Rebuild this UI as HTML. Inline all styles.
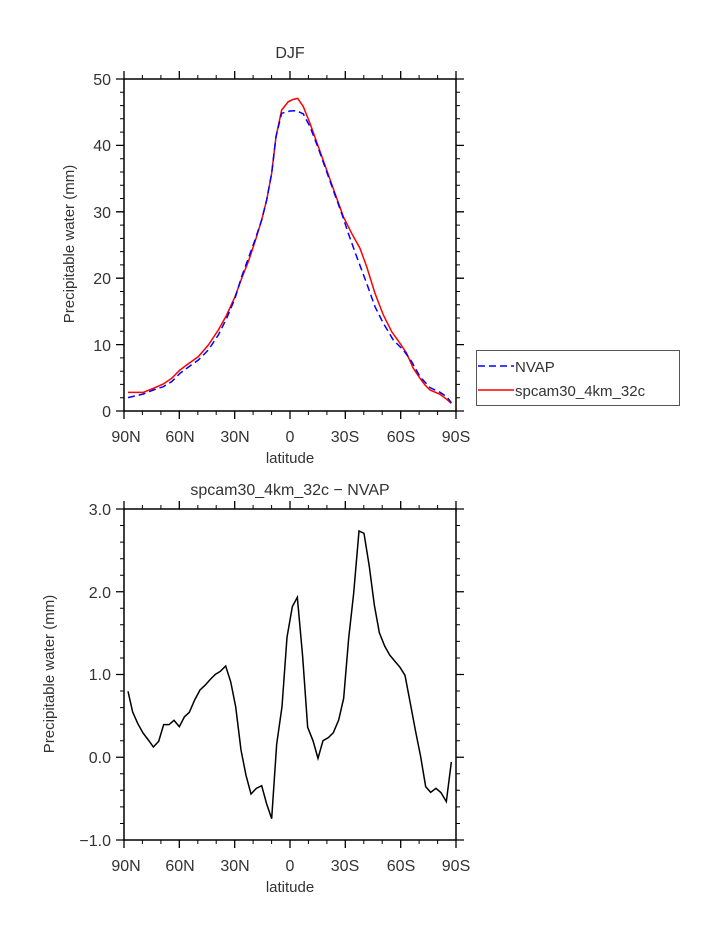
<!DOCTYPE html>
<html><head><style>
html,body{margin:0;padding:0;background:#fff;}
svg{display:block;}
text{font-family:"Liberation Sans","DejaVu Sans",sans-serif;fill:#333;}
</style></head><body>
<svg width="723" height="935" viewBox="0 0 723 935" xmlns="http://www.w3.org/2000/svg">
<!-- TOP PANEL -->
<text x="290" y="58" font-size="16" text-anchor="middle">DJF</text>
<rect x="124" y="79" width="332" height="332" fill="none" stroke="#000" stroke-width="1.5"/>
<g stroke="#000" stroke-width="1.3">
<!-- x major ticks top/bottom -->
<path d="M124,79v-8M179.3,79v-8M234.7,79v-8M290,79v-8M345.3,79v-8M400.7,79v-8M456,79v-8
M124,411v8M179.3,411v8M234.7,411v8M290,411v8M345.3,411v8M400.7,411v8M456,411v8"/>
<path stroke-width="1" d="M142.4,79v-4M160.9,79v-4M197.8,79v-4M216.2,79v-4M253.1,79v-4M271.6,79v-4M308.4,79v-4M326.9,79v-4M363.8,79v-4M382.2,79v-4M419.1,79v-4M437.6,79v-4
M142.4,411v4M160.9,411v4M197.8,411v4M216.2,411v4M253.1,411v4M271.6,411v4M308.4,411v4M326.9,411v4M363.8,411v4M382.2,411v4M419.1,411v4M437.6,411v4"/>
<!-- y major -->
<path d="M124,79h-8M124,145.4h-8M124,211.8h-8M124,278.2h-8M124,344.6h-8M124,411h-8
M456,79h8M456,145.4h8M456,211.8h8M456,278.2h8M456,344.6h8M456,411h8"/>
<path stroke-width="1" d="M124,92.3h-4M124,105.6h-4M124,118.8h-4M124,132.1h-4M124,158.7h-4M124,172h-4M124,185.2h-4M124,198.5h-4M124,225.1h-4M124,238.4h-4M124,251.6h-4M124,264.9h-4M124,291.5h-4M124,304.8h-4M124,318h-4M124,331.3h-4M124,357.9h-4M124,371.2h-4M124,384.4h-4M124,397.7h-4
M456,92.3h4M456,105.6h4M456,118.8h4M456,132.1h4M456,158.7h4M456,172h4M456,185.2h4M456,198.5h4M456,225.1h4M456,238.4h4M456,251.6h4M456,264.9h4M456,291.5h4M456,304.8h4M456,318h4M456,331.3h4M456,357.9h4M456,371.2h4M456,384.4h4M456,397.7h4"/>
</g>
<g font-size="16" text-anchor="end">
<text x="111" y="85">50</text><text x="111" y="151">40</text><text x="111" y="218">30</text>
<text x="111" y="284">20</text><text x="111" y="351">10</text><text x="111" y="417">0</text>
</g>
<g font-size="16" text-anchor="middle">
<text x="126" y="442">90N</text><text x="180" y="442">60N</text><text x="235" y="442">30N</text>
<text x="290" y="442">0</text><text x="345" y="442">30S</text><text x="401" y="442">60S</text><text x="456" y="442">90S</text>
</g>
<text x="290" y="463" font-size="15" text-anchor="middle">latitude</text>
<text transform="translate(74,244) rotate(-90)" font-size="15" text-anchor="middle">Precipitable water (mm)</text>
<g transform="translate(100,60) scale(0.33333)" fill="none">
<polyline stroke="#ff0000" stroke-width="4.5" points="84,997 130,997 160,985 190,972 215,955 240,930 260,915 295,890 325,855 355,810 380,765 405,710 425,655 445,605 465,545 485,480 500,420 515,340 528,230 545,150 565,125 580,118 593,115 610,140 630,190 655,260 680,330 705,400 730,470 755,520 780,565 800,620 825,700 850,765 875,815 900,850 920,880 940,925 960,955 975,975 990,990 1020,1003 1040,1018 1054,1030"/>
<polyline stroke="#0000ff" stroke-width="4.5" stroke-dasharray="21,12" points="84,1013 130,1002 160,990 190,980 215,965 240,940 260,925 295,900 325,870 355,825 380,775 405,715 425,650 445,595 465,540 485,480 500,420 515,340 528,230 545,160 570,153 590,152 610,162 630,200 655,265 680,335 705,405 725,460 745,520 770,590 800,670 825,740 850,790 880,840 910,870 935,905 960,950 990,983 1020,997 1040,1010 1054,1028"/>
</g>
<!-- legend -->
<rect x="476.5" y="350.5" width="203" height="55" fill="none" stroke="#555" stroke-width="1"/>
<line x1="478" y1="366" x2="514" y2="366" stroke="#0000ff" stroke-width="1.5" stroke-dasharray="7,4"/>
<line x1="478" y1="390" x2="514" y2="390" stroke="#ff0000" stroke-width="1.5"/>
<text x="515" y="372" font-size="15">NVAP</text>
<text x="515" y="396" font-size="15">spcam30_4km_32c</text>

<!-- BOTTOM PANEL -->
<text x="290" y="495" font-size="16" text-anchor="middle">spcam30_4km_32c − NVAP</text>
<rect x="124" y="509" width="332" height="331" fill="none" stroke="#000" stroke-width="1.5"/>
<g stroke="#000" stroke-width="1.3">
<path d="M124,509v-8M179.3,509v-8M234.7,509v-8M290,509v-8M345.3,509v-8M400.7,509v-8M456,509v-8
M124,840v8M179.3,840v8M234.7,840v8M290,840v8M345.3,840v8M400.7,840v8M456,840v8"/>
<path stroke-width="1" d="M142.4,509v-4M160.9,509v-4M197.8,509v-4M216.2,509v-4M253.1,509v-4M271.6,509v-4M308.4,509v-4M326.9,509v-4M363.8,509v-4M382.2,509v-4M419.1,509v-4M437.6,509v-4
M142.4,840v4M160.9,840v4M197.8,840v4M216.2,840v4M253.1,840v4M271.6,840v4M308.4,840v4M326.9,840v4M363.8,840v4M382.2,840v4M419.1,840v4M437.6,840v4"/>
<path d="M124,509h-8M124,591.75h-8M124,674.5h-8M124,757.25h-8M124,840h-8
M456,509h8M456,591.75h8M456,674.5h8M456,757.25h8M456,840h8"/>
<path stroke-width="1" d="M124,525.5h-4M124,542.1h-4M124,558.7h-4M124,575.2h-4M124,608.3h-4M124,624.8h-4M124,641.4h-4M124,658h-4M124,691h-4M124,707.6h-4M124,724.2h-4M124,740.7h-4M124,773.8h-4M124,790.3h-4M124,806.9h-4M124,823.5h-4
M456,525.5h4M456,542.1h4M456,558.7h4M456,575.2h4M456,608.3h4M456,624.8h4M456,641.4h4M456,658h4M456,691h4M456,707.6h4M456,724.2h4M456,740.7h4M456,773.8h4M456,790.3h4M456,806.9h4M456,823.5h4"/>
</g>
<g font-size="16" text-anchor="end">
<text x="111" y="515">3.0</text><text x="111" y="598">2.0</text><text x="111" y="680">1.0</text>
<text x="111" y="763">0.0</text><text x="111" y="846">−1.0</text>
</g>
<g font-size="16" text-anchor="middle">
<text x="126" y="871">90N</text><text x="180" y="871">60N</text><text x="235" y="871">30N</text>
<text x="290" y="871">0</text><text x="345" y="871">30S</text><text x="401" y="871">60S</text><text x="456" y="871">90S</text>
</g>
<text x="290" y="892" font-size="15" text-anchor="middle">latitude</text>
<text transform="translate(54,674) rotate(-90)" font-size="15" text-anchor="middle">Precipitable water (mm)</text>
<g transform="translate(100,490) scale(0.33333)" fill="none">
<polyline stroke="#000" stroke-width="4.5" points="84,604 98,666 113,700 129,729 145,750 160,771 176,754 191,704 207,704 222,691 238,710 253,681 268,667 284,630 300,600 315,586 331,568 346,553 361,544 377,528 392,575 407,650 423,780 438,856 453,912 469,895 485,887 500,942 515,986 530,763 546,650 561,442 577,350 592,322 608,500 623,712 639,752 654,805 669,752 685,743 700,728 716,690 731,625 746,445 761,310 777,123 792,130 808,230 823,345 838,428 854,468 869,495 885,514 900,532 915,556 931,640 946,720 962,800 977,890 992,907 1008,895 1023,908 1039,935 1054,816"/>
</g>
</svg>
</body></html>
